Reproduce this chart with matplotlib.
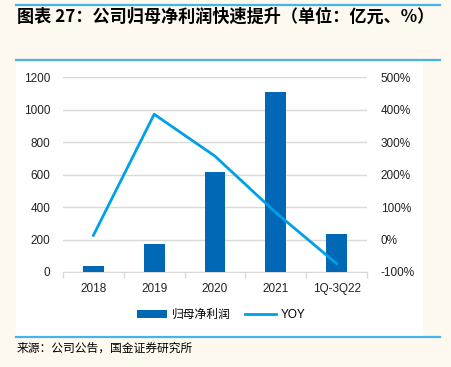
import matplotlib
matplotlib.use("Agg")
import matplotlib.pyplot as plt
import numpy as np
from matplotlib.lines import Line2D
from matplotlib.patches import Rectangle

plt.rcParams['font.family'] = ['Liberation Sans', 'Noto Sans CJK SC', 'DejaVu Sans']

categories = ['2018', '2019', '2020', '2021', '1Q-3Q22']
profit = [36, 171, 617, 1110, 235]
yoy = [13, 386, 257, 83, -74]

W, H = 451, 367
fig = plt.figure(figsize=(W / 100, H / 100), dpi=100)
fig.patch.set_facecolor('#FDF9EF')

def fx(x):
    return x / W

def fy(y):
    return 1 - y / H

# white panel
fig.patches.append(Rectangle((fx(16), fy(336)), fx(423) - fx(16), fy(61) - fy(336),
                             transform=fig.transFigure, facecolor='white', edgecolor='none', zorder=-10))
# blue rules
for yy in (5, 60, 337):
    fig.add_artist(Line2D([fx(16), fx(440)], [fy(yy), fy(yy)], transform=fig.transFigure,
                          color='#45B4E8', linewidth=1.6))

fig.text(fx(17), fy(17), '图表 27：公司归母净利润快速提升（单位：亿元、%）', fontsize=12.3,
         fontweight='bold', fontstyle='italic', va='center', ha='left',
         family=['Noto Sans CJK SC', 'DejaVu Sans'])
fig.text(fx(17), fy(348), '来源：公司公告，国金证券研究所', fontsize=8.5, va='center', ha='left',
         family=['Noto Sans CJK SC', 'DejaVu Sans'])

ax = fig.add_axes([fx(63), fy(272), fx(367) - fx(63), fy(77.3) - fy(272)])
ax.patch.set_alpha(0)
x = np.arange(len(categories))
bars = ax.bar(x, profit, width=0.34, color='#0068B5', zorder=3, label='归母净利润')
ax.set_xlim(-0.5, len(categories) - 0.5)
ax.set_ylim(0, 1200)
ax.set_yticks(range(0, 1201, 200))
ax.yaxis.grid(True, color='#D9D9D9', linewidth=1)
ax.set_axisbelow(True)
for s in ['top', 'right', 'left']:
    ax.spines[s].set_visible(False)
ax.spines['bottom'].set_color('#D9D9D9')
ax.tick_params(axis='y', length=0, pad=9, labelsize=8.5, labelcolor='#222222')
ax.set_xticks(x)
ax.set_xticklabels(categories)
ax.tick_params(axis='x', length=0, pad=8, labelsize=8.5, labelcolor='#222222')
ax.set_xticks(np.arange(-0.5, len(categories), 1), minor=True)
ax.tick_params(axis='x', which='minor', length=4, color='#D9D9D9', width=1)

ax2 = ax.twinx()
line, = ax2.plot(x, yoy, color='#00A0E9', linewidth=2, zorder=4, label='YOY')
ax2.set_ylim(-100, 500)
ax2.set_yticks(range(-100, 501, 100))
ax2.set_yticklabels([f'{v}%' for v in range(-100, 501, 100)])
for s in ['top', 'right', 'left', 'bottom']:
    ax2.spines[s].set_visible(False)
ax2.tick_params(axis='y', length=0, pad=10, labelsize=8.5, labelcolor='#222222')

leg = fig.legend([bars, line], ['归母净利润', 'YOY'], loc='center', bbox_to_anchor=(fx(221), fy(315)),
                 ncol=2, frameon=False, handlelength=2.6, handleheight=0.6,
                 columnspacing=1.2, handletextpad=0.4,
                 prop={'family': ['Liberation Sans', 'Noto Sans CJK SC'], 'size': 8.5})

fig.savefig('out.png', dpi=100, facecolor=fig.get_facecolor())
